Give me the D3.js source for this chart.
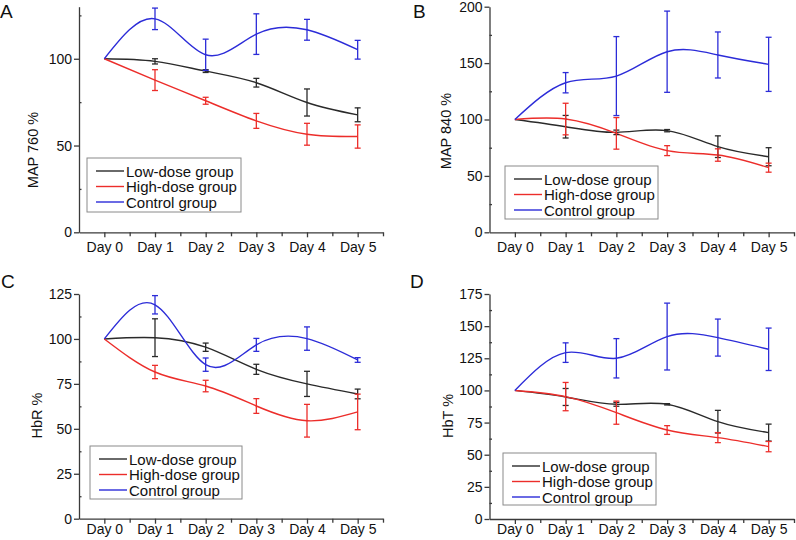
<!DOCTYPE html>
<html><head><meta charset="utf-8">
<script src="https://cdn.jsdelivr.net/npm/d3@7/dist/d3.min.js"></script>
<style>body{margin:0;background:#fff} text{font-family:"Liberation Sans",Arial,Helvetica,sans-serif;fill:#111}</style>
</head><body><svg id="c" width="796" height="540"></svg>
<script>
// ---- data ----
const days = ["Day 0","Day 1","Day 2","Day 3","Day 4","Day 5"];
const seriesNames = ["Low-dose group","High-dose group","Control group"];
const panelLetters = ["A","B","C","D"];
const yTitles = ["MAP 760 %","MAP 840 %","HbR %","HbT %"];
const yMax = [130,200,125,175];
const yTickStep = [50,50,25,25];

// Panel A: MAP 760
const a_low     = [100,98.5,92.9,86.2,74.8,67.7];
const a_lowErr  = [0,1.5,0.8,2.5,7.8,4.0];
const a_high    = [100,87.7,75.8,64.2,56.5,55.2];
const a_highErr = [0,6.0,2.0,4.3,6.3,6.7];
const a_ctrl    = [100,123.0,102.3,114.2,116.7,105.2];
const a_ctrlErr = [0,6.2,9.0,11.7,6.0,5.4];

// Panel B: MAP 840
const b_low     = [100,93.6,88.6,90.1,75.9,67.0];
const b_lowErr  = [0,10.0,2.0,1.0,9.6,8.0];
const b_high    = [100,100.4,87.7,72.4,68.5,57.3];
const b_highErr = [0,14.0,14.0,4.4,5.5,4.0];
const b_ctrl    = [100,132.6,138.5,160.1,157.2,148.9];
const b_ctrlErr = [0,9.0,35.0,36.0,20.4,24.0];

// Panel C: HbR
const c_low     = [100,100.7,95.4,83.1,75.0,69.4];
const c_lowErr  = [0,10.5,2.3,2.8,7.0,2.7];
const c_high    = [100,81.6,73.8,62.7,54.5,59.4];
const c_highErr = [0,3.7,3.2,4.1,9.1,9.9];
const c_ctrl    = [100,119.0,85.7,96.7,100.2,88.3];
const c_ctrlErr = [0,5.1,3.7,3.6,6.5,1.3];

// Panel D: HbT
const d_low     = [100,94.9,89.2,89.2,75.7,67.2];
const d_lowErr  = [0,6.6,1.5,0.5,8.8,6.6];
const d_high    = [100,95.2,82.7,69.2,63.3,56.3];
const d_highErr = [0,11.0,9.0,3.4,3.9,4.0];
const d_ctrl    = [100,129.4,125.0,141.9,141.1,132.0];
const d_ctrlErr = [0,7.6,15.3,26.0,14.4,16.5];

const panelSeries = [
  [[a_low,a_lowErr],[a_high,a_highErr],[a_ctrl,a_ctrlErr]],
  [[b_low,b_lowErr],[b_high,b_highErr],[b_ctrl,b_ctrlErr]],
  [[c_low,c_lowErr],[c_high,c_highErr],[c_ctrl,c_ctrlErr]],
  [[d_low,d_lowErr],[d_high,d_highErr],[d_ctrl,d_ctrlErr]]
];

// ---- styles / layout ----
const colors = ["#2a2a2a","#ec2d2a","#2c2cd8"];
const axisColor = "#3a3a3a";
const layout = [
  {x0:79,  x1:383, yb:232.3, yt:6.7, xpad:5, tx:33,  ty:150,   lx:0,   ly:18,  lg:{x:87, y:158,w:154,h:54}},
  {x0:489.5,x1:794,yb:232.3, yt:6.7, xpad:5, tx:446, ty:131,   lx:413, ly:18,  lg:{x:505,y:166,w:153,h:53}},
  {x0:79,  x1:383, yb:518.7, yt:294, xpad:0.5, tx:37,  ty:415.5, lx:1,   ly:288, lg:{x:90, y:446,w:152,h:53}},
  {x0:489.5,x1:794,yb:519,   yt:294, xpad:0.5, tx:448, ty:416,   lx:410, ly:288, lg:{x:503,y:453,w:153,h:52}}
];

const svg = d3.select("#c");

layout.forEach((L,pi)=>{
  const g = svg.append("g");
  const x = d3.scaleLinear().domain([-0.5,5.5]).range([L.x0,L.x1]);
  const y = d3.scaleLinear().domain([0,yMax[pi]]).range([L.yb,L.yt]);

  // axes
  const majorY = d3.range(0,yMax[pi]+0.001,yTickStep[pi]);
  const minorY = d3.range(yTickStep[pi]/2,yMax[pi]+0.001,yTickStep[pi]);
  const yAxis = d3.axisLeft(y).tickValues(majorY).tickFormat(d3.format("d")).tickSizeInner(5).tickSizeOuter(0).tickPadding(2);
  const ya = g.append("g").attr("transform",`translate(${L.x0},0)`).call(yAxis);
  const yMinor = d3.axisRight(y).tickValues(minorY).tickFormat("").tickSizeInner(2.5).tickSizeOuter(0);
  const ym = g.append("g").attr("transform",`translate(${L.x0},0)`).call(yMinor);
  ym.select(".domain").remove();

  const xAxis = d3.axisBottom(x).tickValues(d3.range(0,6)).tickFormat(i=>days[i]).tickSizeInner(5).tickSizeOuter(0).tickPadding(L.xpad);
  const xa = g.append("g").attr("transform",`translate(0,${L.yb})`).call(xAxis);
  const xMinor = d3.axisBottom(x).tickValues(d3.range(-0.5,5.6,1).filter(v=>v>-0.5)).tickFormat("").tickSizeInner(4).tickSizeOuter(0);
  const xm = g.append("g").attr("transform",`translate(0,${L.yb})`).call(xMinor);
  xm.select(".domain").remove();

  [ya,ym,xa,xm].forEach(a=>{
    a.selectAll("path,line").attr("stroke",axisColor).attr("stroke-width",1.3);
    a.selectAll("text").attr("font-size",14).attr("fill","#111");
  });

  // y title
  g.append("text").attr("transform",`translate(${L.tx},${L.ty}) rotate(-90)`)
    .attr("text-anchor","middle").attr("dominant-baseline","central")
    .attr("font-size",14.5).text(yTitles[pi]);
  // panel letter
  g.append("text").attr("x",L.lx).attr("y",L.ly).attr("font-size",19).text(panelLetters[pi]);

  // curves
  const line = d3.line().x((d,i)=>x(i)).y(d=>y(d)).curve(d3.curveNatural);
  panelSeries[pi].forEach(([vals,errs],si)=>{
    g.append("path").attr("d",line(vals)).attr("fill","none")
      .attr("stroke",colors[si]).attr("stroke-width",1.4);
  });
  // error bars
  panelSeries[pi].forEach(([vals,errs],si)=>{
    const eb = g.append("g").attr("stroke",colors[si]).attr("stroke-width",1.3);
    vals.forEach((v,i)=>{
      if(!errs[i]) return;
      const cx = x(i), yt = y(v+errs[i]), ybt = y(v-errs[i]);
      eb.append("line").attr("x1",cx).attr("x2",cx).attr("y1",yt).attr("y2",ybt);
      eb.append("line").attr("x1",cx-3).attr("x2",cx+3).attr("y1",yt).attr("y2",yt);
      eb.append("line").attr("x1",cx-3).attr("x2",cx+3).attr("y1",ybt).attr("y2",ybt);
    });
  });

  // legend
  const lg = L.lg;
  g.append("rect").attr("x",lg.x).attr("y",lg.y).attr("width",lg.w).attr("height",lg.h)
    .attr("fill","#fff").attr("stroke","#8a8a8a").attr("stroke-width",1);
  seriesNames.forEach((n,si)=>{
    const ry = lg.y + 13 + si*15.5;
    g.append("line").attr("x1",lg.x+9).attr("x2",lg.x+37).attr("y1",ry).attr("y2",ry)
      .attr("stroke",colors[si]).attr("stroke-width",1.4);
    g.append("text").attr("x",lg.x+39).attr("y",ry).attr("dominant-baseline","central")
      .attr("font-size",15).text(n);
  });
});
</script></body></html>
